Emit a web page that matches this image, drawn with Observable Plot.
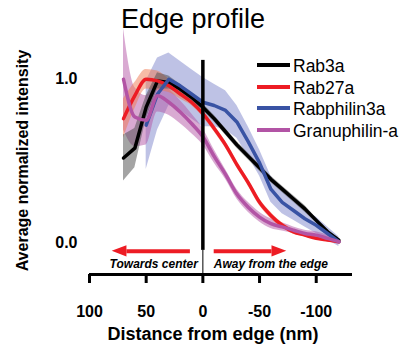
<!DOCTYPE html>
<html>
<head>
<meta charset="utf-8">
<script src="https://cdn.jsdelivr.net/npm/d3@7"></script>
<script src="https://cdn.jsdelivr.net/npm/@observablehq/plot@0.6"></script>
<style>
  html, body { margin: 0; padding: 0; background: #fff; }
  #wrap { position: relative; width: 404px; height: 356px; font-family: "Liberation Sans", Arial, sans-serif; }
  #title { position: absolute; left: 121px; top: 6px; font-size: 27px; line-height: 27px; color: #000; white-space: nowrap; }
  #legend { position: absolute; left: 257px; top: 55px; }
  .row { position: relative; height: 21.7px; line-height: 22px; font-size: 17.5px; white-space: nowrap; }
  .row .sw { position: absolute; left: 0; top: 8px; width: 33px; height: 4px; }
  .row .lab { position: absolute; left: 36px; top: 0; }
  svg g[aria-label="x-axis tick label"] text, svg g[aria-label="y-axis tick label"] text { font-weight: bold; }
</style>
</head>
<body>
<div id="wrap">
  <div id="chart"></div>
  <div id="title"></div>
  <div id="legend"></div>
</div>
<script>
// ---- data ----
const titleText = "Edge profile";
const xLabel = "Distance from edge (nm)";
const yLabel = "Average normalized intensity";
const xTicks = [100, 50, 0, -50, -100];
const yTicks = [0, 1];
const dist = [70, 60, 50, 40, 30, 20, 10, 0, -10, -20, -30, -40, -50, -60, -70, -80, -90, -100, -110, -120];

const seriesNames = ["Rab3a", "Rab27a", "Rabphilin3a", "Granuphilin-a"];
const lineColors = ["#000000", "#ed1c24", "#3953a4", "#b254a5"];
const bandColors = ["#4a4a4a", "#f07850", "#7d86cc", "#b455a5"];

const rab3a    = [0.52, 0.58, 0.83, 0.99, 0.98, 0.94, 0.89, 0.83, 0.76, 0.68, 0.60, 0.53, 0.46, 0.39, 0.33, 0.27, 0.21, 0.14, 0.07, 0.02];
const rab3aErr = [0.14, 0.12, 0.07, 0.05, 0.04, 0.03, 0.025, 0.02, 0.02, 0.02, 0.02, 0.02, 0.02, 0.02, 0.02, 0.02, 0.02, 0.015, 0.015, 0.01];

const rab27a    = [0.76, 0.90, 1.00, 0.99, 0.96, 0.91, 0.86, 0.79, 0.70, 0.60, 0.48, 0.37, 0.25, 0.17, 0.11, 0.07, 0.05, 0.03, 0.02, 0.01];
const rab27aErr = [0.12, 0.08, 0.06, 0.06, 0.04, 0.03, 0.02, 0.02, 0.02, 0.02, 0.02, 0.02, 0.02, 0.02, 0.015, 0.015, 0.01, 0.01, 0.01, 0.01];

const rabphilin    = [null, null, 0.72, 0.91, 1.00, 0.96, 0.91, 0.86, 0.84, 0.81, 0.74, 0.62, 0.49, 0.33, 0.25, 0.20, 0.15, 0.11, 0.06, 0.01];
const rabphilinErr = [null, null, 0.27, 0.22, 0.16, 0.15, 0.15, 0.15, 0.13, 0.12, 0.10, 0.09, 0.08, 0.08, 0.07, 0.06, 0.05, 0.05, 0.04, 0.03];

const granuphilin    = [1.00, 0.77, 0.75, 0.90, 0.86, 0.80, 0.73, 0.65, 0.53, 0.42, 0.30, 0.22, 0.16, 0.12, 0.10, 0.08, 0.06, 0.05, 0.03, 0.01];
const granuphilinErr = [0.31, 0.18, 0.15, 0.10, 0.08, 0.07, 0.06, 0.05, 0.04, 0.03, 0.03, 0.03, 0.03, 0.03, 0.025, 0.02, 0.02, 0.02, 0.02, 0.015];

// annotations
const edgeLineTop = 1.115, edgeLineBottom = -0.043;
const arrowY = -0.049;
const leftArrow = {from: 11, base: 67, tip: 80};
const rightArrow = {from: -10, base: -61, tip: -74};
const arrowHalf = 0.034;
const noteY = -0.128;
const leftNote = "Towards center", rightNote = "Away from the edge";
const arrowColor = "#ed1c24";

// ---- build tables ----
const allValues = [rab3a, rab27a, rabphilin, granuphilin];
const allErrs = [rab3aErr, rab27aErr, rabphilinErr, granuphilinErr];
const tables = allValues.map((vals, s) =>
  dist.map((d, i) => ({dist: d, value: vals[i], err: allErrs[s][i], series: seriesNames[s]}))
      .filter(r => r.value != null));

const yMin = -0.19, yMax = 1.48;
const curves = ["linear", "monotone-x", "linear", "monotone-x"];

const bandOrder = [2, 3, 1, 0];
const lineOrder = [0, 1, 2, 3];

const marks = [];
for (const s of bandOrder) {
  marks.push(Plot.areaY(tables[s], {x: "dist", y1: d => d.value - d.err, y2: d => d.value + d.err,
    fill: bandColors[s], fillOpacity: 0.5, curve: curves[s]}));
}
for (const s of lineOrder) {
  marks.push(Plot.line(tables[s], {x: "dist", y: "value", stroke: lineColors[s], strokeWidth: 3.5, curve: curves[s]}));
}
// edge line
marks.push(Plot.ruleX([0], {y1: edgeLineTop, y2: edgeLineBottom, stroke: "#000", strokeWidth: 3.5}));
marks.push(Plot.ruleX([0], {y1: edgeLineBottom, y2: yMin, stroke: "#000", strokeWidth: 1}));
// arrows
for (const a of [leftArrow, rightArrow]) {
  marks.push(Plot.ruleY([arrowY], {x1: a.from, x2: a.base, stroke: arrowColor, strokeWidth: 4}));
  marks.push(Plot.areaY([
      {x: a.tip, y1: arrowY, y2: arrowY},
      {x: a.base, y1: arrowY - arrowHalf, y2: arrowY + arrowHalf}
    ], {x: "x", y1: "y1", y2: "y2", fill: arrowColor}));
}
marks.push(Plot.text([leftNote], {x: 0, y: noteY, text: d => d, textAnchor: "end", dx: -5,
  fontSize: 12, fontWeight: "bold", fontStyle: "italic"}));
marks.push(Plot.text([rightNote], {x: 0, y: noteY, text: d => d, textAnchor: "start", dx: 11,
  fontSize: 12, fontWeight: "bold", fontStyle: "italic"}));
// axes
marks.push(Plot.ruleY([yMin], {stroke: "#000", strokeWidth: 3}));
marks.push(Plot.axisX({ticks: xTicks, tickFormat: d => String(d), tickSize: 9, strokeWidth: 3,
  tickPadding: 22, fontSize: 16, fontWeight: "bold", label: null}));
marks.push(Plot.axisY({ticks: yTicks, tickFormat: d3.format(".1f"), tickSize: 0, tickPadding: 12,
  fontSize: 16, fontWeight: "bold", label: null}));
marks.push(Plot.text([xLabel], {frameAnchor: "bottom", text: d => d, dy: 65, dx: -8,
  fontSize: 18, fontWeight: "bold"}));
marks.push(Plot.text([yLabel], {frameAnchor: "left", textAnchor: "middle", text: d => d, rotate: -90,
  dx: -67, dy: 23, fontSize: 16, fontWeight: "bold"}));

const chart = Plot.plot({
  width: 404, height: 356,
  marginLeft: 89, marginRight: 52, marginTop: 0, marginBottom: 82,
  x: {domain: [100, -132]},
  y: {domain: [yMin, yMax]},
  style: {fontFamily: "'Liberation Sans', Arial, sans-serif", background: "transparent", color: "#000", overflow: "visible"},
  marks
});
document.getElementById("chart").appendChild(chart);
document.getElementById("title").textContent = titleText;

const legend = document.getElementById("legend");
seriesNames.forEach((name, i) => {
  const row = document.createElement("div");
  row.className = "row";
  const sw = document.createElement("span");
  sw.className = "sw";
  sw.style.background = lineColors[i];
  const lab = document.createElement("span");
  lab.className = "lab";
  lab.textContent = name;
  row.appendChild(sw); row.appendChild(lab);
  legend.appendChild(row);
});
</script>
</body>
</html>
